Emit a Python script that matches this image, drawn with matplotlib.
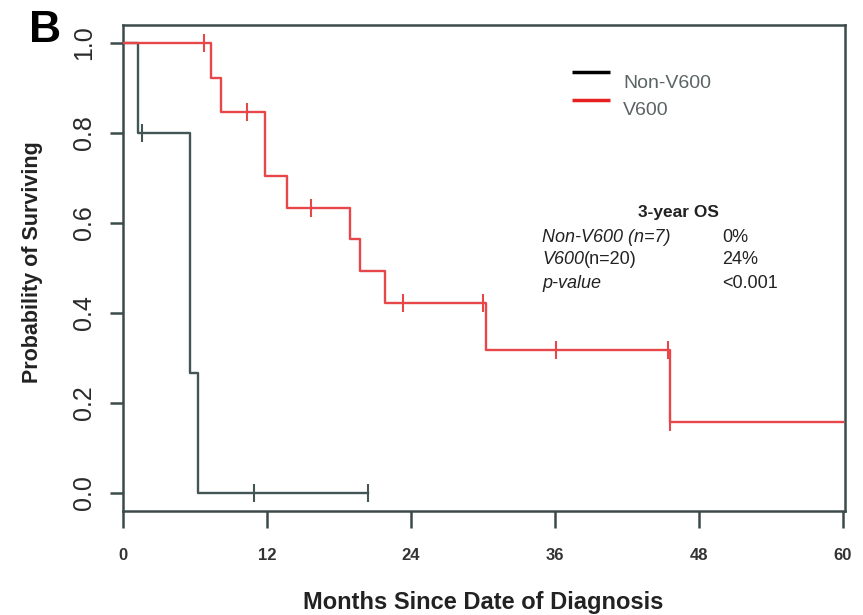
import matplotlib
matplotlib.use("Agg")
import matplotlib.pyplot as plt

plt.rcParams['font.family'] = ['Liberation Sans', 'DejaVu Sans']

# ---- data ----
nonv_times = [0, 1.25, 5.6, 6.25, 20.4]
nonv_surv = [1.0, 0.8, 0.267, 0.0, 0.0]
nonv_cens_t = [1.6, 10.9, 20.4]
nonv_cens_s = [0.8, 0.0, 0.0]

v_times = [0, 7.3, 8.2, 11.8, 13.7, 18.9, 19.75, 21.8, 30.25, 45.6, 60]
v_surv = [1.0, 0.923, 0.846, 0.705, 0.634, 0.564, 0.493, 0.423, 0.317, 0.158, 0.158]
v_cens_t = [6.75, 10.3, 15.7, 23.3, 30.0, 36.1, 45.4, 45.6]
v_cens_s = [1.0, 0.846, 0.634, 0.423, 0.423, 0.317, 0.317, 0.158]

x_ticks = [0, 12, 24, 36, 48, 60]
y_ticks = [0.0, 0.2, 0.4, 0.6, 0.8, 1.0]
y_ticklabels = ["0.0", "0.2", "0.4", "0.6", "0.8", "1.0"]

legend_labels = ["Non-V600", "V600"]
legend_colors = ["#000000", "#e62020"]

os_title = "3-year OS"
os_rows = [("Non-V600 (n=7)", "", "0%"), ("V600", "(n=20)", "24%"), ("p-value", "", "<0.001")]

# ---- figure ----
W, H = 863, 615
fig = plt.figure(figsize=(W / 100, H / 100), dpi=100)
fig.patch.set_facecolor('white')
ax = fig.add_axes([123 / W, (H - 511) / H, (845 - 123) / W, (511 - 25) / H])

gray = '#435555'
red = '#e8474a'

ax.step(nonv_times, nonv_surv, where='post', color=gray, lw=1.7, zorder=3)
ax.plot(nonv_cens_t, nonv_cens_s, ls='none', marker='|', ms=13, mew=1.5, color=gray, zorder=3)
ax.step(v_times, v_surv, where='post', color=red, lw=1.7, zorder=4)
ax.plot(v_cens_t, v_cens_s, ls='none', marker='|', ms=13, mew=1.5, color=red, zorder=4)

ax.set_xlim(0, 60.17)
ax.set_ylim(-0.04, 1.04)

for s in ax.spines.values():
    s.set_color('#3c4a4a')
    s.set_linewidth(1.8)

ax.set_xticks(x_ticks)
ax.set_xticklabels([str(t) for t in x_ticks], fontsize=12, fontweight='bold', color='#333333')
ax.set_yticks(y_ticks)
ax.set_yticklabels(y_ticklabels, fontsize=18, color='#2a2a2a', rotation=90, va='center')
ax.tick_params(axis='x', length=12, width=1.8, color='#3c4a4a', pad=15)
ax.tick_params(axis='y', length=9.5, width=1.8, color='#3c4a4a', pad=10)

# legend (manual swatches in axes fraction)
leg_y = [0.903, 0.846]
txt_y = [0.879, 0.825]
for lab, col, ly, ty in zip(legend_labels, legend_colors, leg_y, txt_y):
    ax.plot([(572 - 123) / 722, (610 - 123) / 722], [ly, ly], transform=ax.transAxes,
            color=col, lw=2.5, solid_capstyle='butt', clip_on=False)
    ax.text((623 - 123) / 722, ty, lab, transform=ax.transAxes, fontsize=14,
            color='#5a6464', ha='left', va='center')

# 3-year OS annotation
ax.text((678 - 123) / 722, (511 - 213) / 486, os_title, transform=ax.transAxes,
        fontsize=12.5, fontweight='bold', ha='center', va='center', color='#222222')
row_y = [237, 260, 284]
for (a, b, c), ry in zip(os_rows, row_y):
    yy = (511 - ry) / 486
    t1 = ax.text((542 - 123) / 722, yy, a, transform=ax.transAxes, fontsize=13,
                 fontstyle='italic', ha='left', va='center', color='#222222')
    if b:
        ax.annotate(b, xy=(1, 0), xycoords=t1, fontsize=13, ha='left', va='bottom',
                    color='#222222')
    ax.text((722 - 123) / 722, yy, c, transform=ax.transAxes, fontsize=13,
            ha='left', va='center', color='#222222')

# axis labels and panel letter
fig.text(483 / W, 1 - 603 / H, "Months Since Date of Diagnosis", fontsize=17,
         fontweight='bold', ha='center', va='center', color='#222222')
fig.text(33 / W, 1 - 262 / H, "Probability of Surviving", fontsize=15.5,
         fontweight='bold', ha='center', va='center', rotation=90, color='#222222')
fig.text(29 / W, 1 - 42 / H, "B", fontsize=32, fontweight='bold', ha='left',
         va='baseline', color='#000000')

fig.savefig("out.png", dpi=100, facecolor='white')
